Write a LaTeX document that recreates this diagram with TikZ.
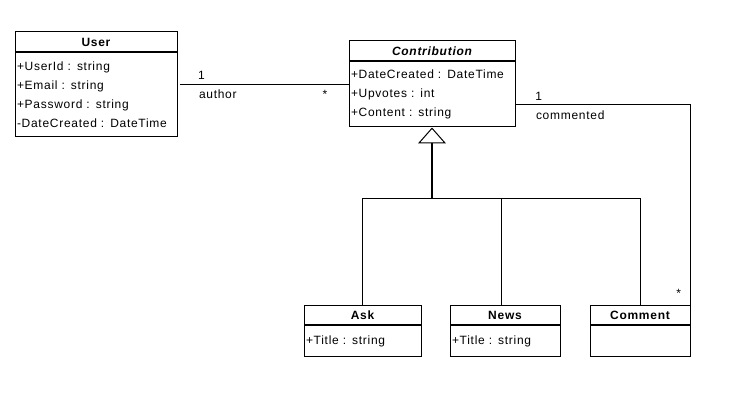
\documentclass[tikz,border=0pt]{standalone}
\usepackage{fontspec}
\setmainfont{Liberation Sans}[LetterSpace=6.0]
\usetikzlibrary{arrows.meta,positioning}
\tikzset{
    %Define style for class headers
    clshead/.style={
           rectangle,
           draw=black, line width=1pt,
           minimum height=20pt,
           inner sep=0pt,
           font=\fontsize{12}{14}\selectfont\bfseries},
    %Define style for attribute boxes
    clsbody/.style={
           rectangle,
           draw=black, line width=1pt,
           inner xsep=2pt, inner ysep=0pt,
           align=left,
           font=\fontsize{12}{19}\selectfont},
    % Define generalization style
    gen/.style={
           line width=1.6pt,
           -{Triangle[open, length=16pt, width=28pt, line width=1pt]}},
    % Define association style
    assoc/.style={
           line width=1pt},
    lbl/.style={
           inner sep=0pt,
           font=\fontsize{12}{14}\selectfont}
}
\begin{document}
\begin{tikzpicture}[x=1pt,y=-1pt]
\useasboundingbox (0,0) rectangle (732,403);
%Classes
\node[clshead, minimum width=162pt] (user) at (96,42) {User};
\node[clsbody, text width=158pt, minimum height=84pt, below=0pt of user] (userattr)
  {+UserId : string\\+Email : string\\+Password : string\\-DateCreated : DateTime};
\node[clshead, minimum width=166pt, font=\fontsize{12}{14}\selectfont\bfseries\itshape] (contrib) at (432,51) {Contribution};
\node[clsbody, text width=162pt, minimum height=65pt, below=0pt of contrib] (contribattr)
  {+DateCreated : DateTime\\+Upvotes : int\\+Content : string};
\node[clshead, minimum width=117pt, minimum height=19pt] (ask) at (362.5,315.5) {Ask};
\node[clsbody, text width=113pt, minimum height=31pt, below=0pt of ask] (askattr) {+Title : string};
\node[clshead, minimum width=110pt, minimum height=19pt] (news) at (505,315.5) {News};
\node[clsbody, text width=106pt, minimum height=31pt, below=0pt of news] (newsattr) {+Title : string};
\node[clshead, minimum width=100pt, minimum height=19pt] (comment) at (640,315.5) {Comment};
\node[clsbody, text width=96pt, minimum height=31pt, below=0pt of comment] (commentattr) {};
%Associations
\draw[assoc] ([xshift=2pt,yshift=10pt]userattr.east) -- ([yshift=10pt]userattr.east -| contribattr.west)
  node[lbl, pos=0.13, above=5pt] {1}
  node[lbl, pos=0.0, anchor=north west, xshift=19pt, yshift=-4pt] {author}
  node[lbl, pos=0.86, below=5pt] {*};
\draw[assoc] ([yshift=-10.5pt]contribattr.east) -| (comment.north east)
  node[lbl, pos=0.066, above=4pt] {1}
  node[lbl, pos=0.0, anchor=north west, xshift=20pt, yshift=-5pt] {commented}
  node[lbl, pos=0.97, left=9pt] {*};
%Generalization
\coordinate (split) at (432,199);
\draw[assoc] (ask.north) |- (split);
\draw[assoc] ([xshift=-4pt]news.north) -- ([xshift=-4pt]news.north |- split);
\draw[assoc] (comment.north) |- (split);
\draw[gen] (split) -- (contribattr.south);
\end{tikzpicture}
\end{document}
